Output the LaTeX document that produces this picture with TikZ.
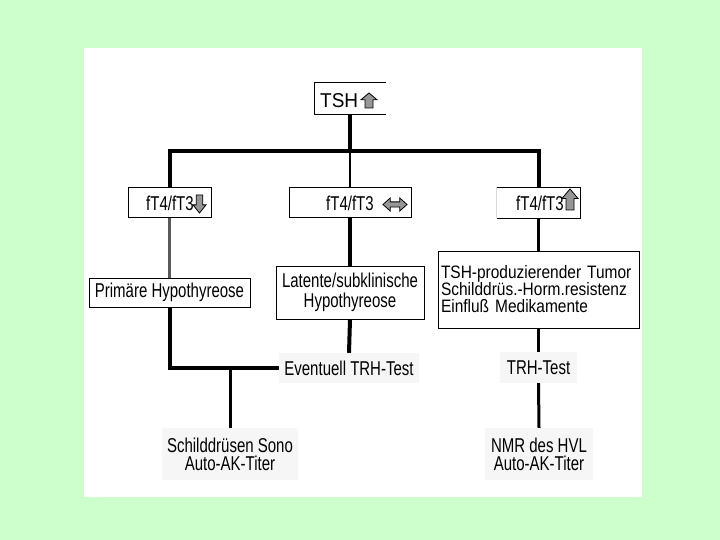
\documentclass[tikz,border=0pt]{standalone}
\usepackage{fontspec}
\setmainfont{Liberation Sans}[FakeStretch=0.75]
\newfontfamily\tshfont{Liberation Sans}[FakeStretch=0.95]
\newfontfamily\tumfont{Liberation Sans}[FakeStretch=0.86]
\usepackage{tikz}
\usetikzlibrary{positioning}
\definecolor{bggreen}{RGB}{204,255,204}
\definecolor{glyphgray}{RGB}{150,150,150}
\definecolor{faint}{RGB}{246,246,246}
\definecolor{thinline}{RGB}{90,90,90}
\tikzset{
  uparrow/.pic={\draw[glyph] (-0.25,0.5) -- (0.25,0.5) -- (0.25,-0.05) -- (0.5,-0.05) -- (0,-0.5) -- (-0.5,-0.05) -- (-0.25,-0.05) -- cycle;},
  twoarrow/.pic={\draw[glyph] (-0.5,0) -- (-0.2,-0.5) -- (-0.2,-0.2) -- (0.2,-0.2) -- (0.2,-0.5) -- (0.5,0) -- (0.2,0.5) -- (0.2,0.2) -- (-0.2,0.2) -- (-0.2,0.5) -- cycle;}
}

\begin{document}
\begin{tikzpicture}[x=1pt, y=-1pt, every node/.style={font=\fontsize{20}{20}\selectfont},
  box/.style={rectangle, draw, line width=1pt, inner sep=0pt, minimum height=30pt},
  soft/.style={rectangle, fill=faint, inner sep=0pt, align=center},
  glyph/.style={fill=glyphgray, draw=black, line width=0.8pt},
  heavy/.style={line width=4pt},
  medium/.style={line width=3pt},
  slim/.style={line width=2.5pt}]
  \useasboundingbox (0,0) rectangle (720,540);
  % Background and white panel
  \fill[bggreen] (0,0) rectangle (720,540);
  \fill[white] (84,48) rectangle (642,497);
  % TSH box (open on the right)
  \node[box, draw=none, minimum width=70pt, minimum height=31pt] (tsh) at (350,98.5) {};
  \draw[line width=1pt] (tsh.north east) -- (tsh.north west) -- (tsh.south west) -- (tsh.south east);
  \node[anchor=base west, inner sep=0pt, font={\tshfont\fontsize{20}{20}\selectfont}] (tshtxt) at (320,107.5) {TSH};
  \pic[xscale=16, yscale=15] at (369,100.5) {uparrow};
  % fT4/fT3 boxes
  \node[box, minimum width=83pt] (low) at (169.5,203) {};
  \node[anchor=base west, inner sep=0pt] (lowtxt) at (146,211) {fT4/fT3};
  \pic[xscale=13, yscale=-18] at (199.5,204) {uparrow};
  \node[box, minimum width=122pt] (norm) at (350,203) {};
  \node[anchor=base west, inner sep=0pt] (normtxt) at (326,211) {fT4/fT3};
  \pic[xscale=24, yscale=13] at (395,204.5) {twoarrow};
  \node[box, draw=none, minimum width=83pt] (high) at (538.5,203) {};
  \draw[line width=1pt] (high.north west) -- (high.north east) -- (high.south east) -- (high.south west);
  \draw[line width=1pt, gray!30] (high.north west) -- (high.south west);
  \node[anchor=base west, inner sep=0pt] (hightxt) at (516,211) {fT4/fT3};
  \pic[xscale=16, yscale=21] at (570,199.5) {uparrow};
  % Diagnosis boxes
  \node[box, minimum width=161pt, minimum height=29pt] (prim) at (169.5,292.5) {Primäre Hypothyreose};
  \node[box, minimum width=148pt, minimum height=53pt, align=center] (lat) at (350,292.5) {Latente/subklinische\\Hypothyreose};
  \node[box, minimum width=201pt, minimum height=77pt, inner sep=3pt, text width=195pt, align=left,
    font={\tumfont\fontsize{18}{17}\selectfont}] (tum) at (538.5,289.5) {TSH-produzierender Tumor\\Schilddrüs.-Horm.resistenz\\Einfluß Medikamente};
  % Tests and follow-up
  \node[soft, minimum width=140pt, minimum height=30pt] (ev) at (349,368) {Eventuell TRH-Test};
  \node[soft, minimum width=77pt, minimum height=31pt] (trh) at (538.5,367.5) {TRH-Test};
  \node[soft, minimum width=136pt, minimum height=52pt, font=\fontsize{20}{18}\selectfont] (sono) at (230,454) {Schilddrüsen Sono\\Auto-AK-Titer};
  \node[soft, minimum width=108pt, minimum height=52pt, font=\fontsize{20}{18}\selectfont] (nmr) at (539,454) {NMR des HVL\\Auto-AK-Titer};
  % Connectors
  \coordinate (split) at (350,151);
  \draw[heavy] (tsh.south) -- (split);
  \draw[heavy] (low.north) |- (split) -| (high.north);
  \draw[slim] (split) -- (norm.north);
  \draw[slim, thinline] (low.south) -- (prim.north);
  \draw[heavy] (norm.south) -- (lat.north);
  \draw[medium] (high.south) -- (tum.north);
  \draw[heavy] (prim.south) |- (ev.west);
  \draw[heavy] (lat.south) -- (ev.north);
  \draw[medium] (sono.north |- ev.west) -- (sono.north);
  \draw[medium] (tum.south) -- (trh.north);
  \draw[medium] (trh.south) -- (nmr.north);
\end{tikzpicture}
\end{document}
